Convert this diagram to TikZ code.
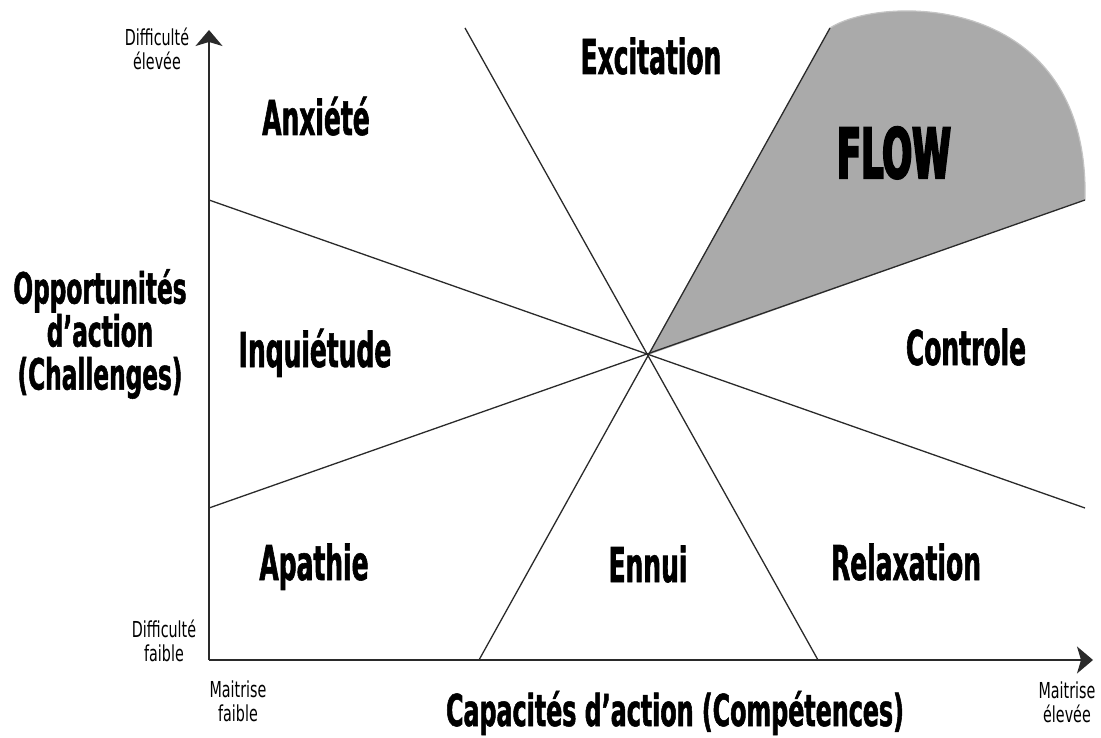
\documentclass[tikz,border=0pt]{standalone}
\usepackage{fontspec}
\usetikzlibrary{arrows.meta}
\newfontfamily\labfont[FakeStretch=0.52,FakeBold=1.2]{DejaVu Sans}
\newfontfamily\axfont[FakeStretch=0.54,FakeBold=1.2]{DejaVu Sans}
\newfontfamily\flowfont[FakeStretch=0.51,FakeBold=3]{DejaVu Sans}
\newfontfamily\smlfont[FakeStretch=0.65]{DejaVu Sans}
\definecolor{flowgray}{HTML}{AAAAAA}
\definecolor{linegray}{HTML}{2A2A2A}
\tikzset{
  zone/.style={font=\labfont\bfseries\fontsize{48}{48}\selectfont, anchor=base, inner sep=0pt},
  axislabel/.style={font=\axfont\bfseries\fontsize{43}{43}\selectfont, align=center, inner sep=0pt},
  smalllabel/.style={font=\smlfont\fontsize{22}{24}\selectfont, align=center, inner sep=0pt},
  divider/.style={draw=linegray, line width=1.3pt},
  axis/.style={draw=linegray, line width=1.4pt, -{Stealth[length=16pt,width=27pt,inset=4pt]}},
}
\begin{document}
\begin{tikzpicture}[x=1pt,y=-1pt]
\useasboundingbox (0,0) rectangle (1101,738);
% key points
\coordinate (C) at (648,355);
\coordinate (L1) at (209,200);
\coordinate (R1) at (1085,508);
\coordinate (L2) at (209,508);
\coordinate (R2) at (1085,200);
\coordinate (T1) at (465,28);
\coordinate (B1) at (818,660);
\coordinate (T2) at (830,28);
\coordinate (B2) at (479,660);
\coordinate (O) at (209,660);
\coordinate (Ytop) at (209,30);
\coordinate (Xend) at (1093,660);
% flow region
\fill[flowgray] (C) -- (T2) .. controls (880,-5) and (1090,-10) .. (R2) -- cycle;
\draw[flowgray!70!white, line width=1.2pt] (T2) .. controls (880,-5) and (1090,-10) .. (R2);
% dividing lines
\draw[divider] (L1) -- (R1);
\draw[divider] (L2) -- (R2);
\draw[divider] (T1) -- (B1);
\draw[divider] (T2) -- (B2);
% axes
\draw[axis] (O) -- (Ytop);
\draw[axis] (O) -- (Xend);
% zone labels
\node[zone] (exc) at (651,74) {Excitation};
\node[zone] (anx) at (316,135) {Anxiété};
\node[font=\flowfont\bfseries\fontsize{69}{69}\selectfont, anchor=base, inner sep=0pt] (flow) at (894,178) {FLOW};
\node[zone] (inq) at (315,367) {Inquiétude};
\node[zone] (ctl) at (966,365) {Controle};
\node[zone] (apa) at (314,580) {Apathie};
\node[zone] (enn) at (648,582) {Ennui};
\node[zone] (rel) at (906,580) {Relaxation};
% axis labels
\node[axislabel] (ylab) at (100,334) {Opportunités\\d’action\\(Challenges)};
\node[axislabel, font=\axfont\bfseries\fontsize{44}{44}\selectfont, anchor=base] (xlab) at (675,726) {Capacités d’action (Compétences)};
\node[smalllabel] (dh) at (157,49) {Difficulté\\élevée};
\node[smalllabel] (dl) at (164,641) {Difficulté\\faible};
\node[smalllabel] (ml) at (238,701) {Maitrise\\faible};
\node[smalllabel] (mh) at (1067,702) {Maitrise\\élevée};
\end{tikzpicture}
\end{document}
